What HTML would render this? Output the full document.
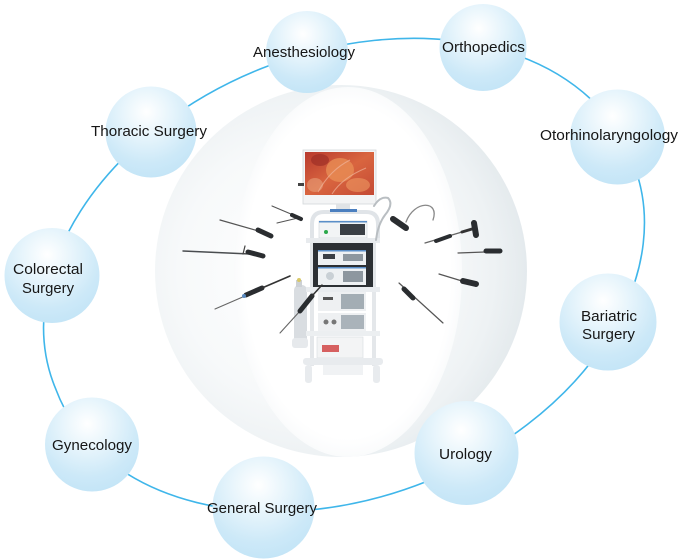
<!DOCTYPE html>
<html><head><meta charset="utf-8"><style>
html,body{margin:0;padding:0;background:#fff;width:680px;height:559px;overflow:hidden;}
svg{display:block;}
text{font-family:"Liberation Sans",Arial,sans-serif;font-size:14.5px;fill:#161616;}
</style></head><body>
<svg width="680" height="559" viewBox="0 0 680 559" xmlns="http://www.w3.org/2000/svg">
<defs>
  <radialGradient id="bub" cx="0.45" cy="0.3" r="0.78" fx="0.45" fy="0.28">
    <stop offset="0" stop-color="#ffffff"/>
    <stop offset="0.3" stop-color="#eaf6fc"/>
    <stop offset="0.7" stop-color="#cde9f8"/>
    <stop offset="1" stop-color="#c0e3f6"/>
  </radialGradient>
  <radialGradient id="sph" cx="0.42" cy="0.5" r="0.58" fx="0.4" fy="0.5">
    <stop offset="0" stop-color="#ffffff"/>
    <stop offset="0.6" stop-color="#f7f9fa"/>
    <stop offset="0.85" stop-color="#eef2f4"/>
    <stop offset="1" stop-color="#e4eaed"/>
  </radialGradient>
  <radialGradient id="inner" cx="0.5" cy="0.5" r="0.5">
    <stop offset="0" stop-color="#ffffff"/>
    <stop offset="0.9" stop-color="#ffffff"/>
    <stop offset="1" stop-color="#fafbfc"/>
  </radialGradient>
  <linearGradient id="scr" x1="0" y1="0" x2="1" y2="1">
    <stop offset="0" stop-color="#b83a2e"/>
    <stop offset="0.5" stop-color="#d9653f"/>
    <stop offset="1" stop-color="#c44a35"/>
  </linearGradient>
  <clipPath id="sc"><circle cx="341" cy="271" r="186"/></clipPath>
</defs>

<!-- ring -->
<path d="M632 160.4 A310 219 -21.7 1 1 56 389.6 A310 219 -21.7 1 1 632 160.4 Z" fill="none" stroke="#3fb6ea" stroke-width="1.6"/>

<!-- sphere -->
<circle cx="341" cy="271" r="186" fill="url(#sph)"/>
<g clip-path="url(#sc)">
  <ellipse cx="348" cy="272" rx="114" ry="185" fill="url(#inner)"/>
</g>

<!-- equipment -->
<g>
  <rect x="294" y="285" width="13" height="58" rx="5" fill="#d9dde1"/>
  <rect x="296" y="280" width="6" height="7" fill="#cdd1d5"/>
  <circle cx="299" cy="280" r="2" fill="#d8c86a"/>
  <rect x="292" y="338" width="16" height="10" rx="3" fill="#e6e9ec"/>
  <rect x="310" y="238" width="4" height="128" fill="#e4e7ea"/>
  <rect x="372" y="238" width="4" height="128" fill="#e4e7ea"/>
  <path d="M312 240 V224 Q312 212 324 212 H366 Q378 212 378 224 V240" fill="none" stroke="#e0e4e8" stroke-width="4"/>
  <rect x="303" y="150" width="73" height="54" fill="#f3f4f5" stroke="#d3d7db" stroke-width="0.8"/>
  <rect x="305" y="152" width="69" height="43" fill="url(#scr)"/>
  <ellipse cx="340" cy="170" rx="14" ry="12" fill="#e98d55" opacity="0.8"/>
  <ellipse cx="320" cy="160" rx="9" ry="6" fill="#9e2f27" opacity="0.7"/>
  <ellipse cx="358" cy="185" rx="12" ry="7" fill="#ee9a62" opacity="0.6"/>
  <ellipse cx="315" cy="185" rx="8" ry="7" fill="#e8a07a" opacity="0.6"/>
  <path d="M318 192 Q330 170 350 160 M332 194 Q342 178 366 168" stroke="#f0b49a" stroke-width="1" fill="none" opacity="0.7"/>
  <rect x="298" y="183" width="6" height="3" fill="#444"/>
  <rect x="336" y="204" width="14" height="6" fill="#e0e3e6"/>
  <rect x="330" y="209" width="27" height="3" fill="#4b7fbf"/>
  <rect x="319" y="221" width="48" height="17" fill="#f2f4f5" stroke="#cfd5da" stroke-width="0.6"/>
  <rect x="319" y="221" width="48" height="1.5" fill="#5b8fc8"/>
  <rect x="340" y="224" width="25" height="11" fill="#3a3f45"/>
  <circle cx="326" cy="232" r="2" fill="#2aa84a"/>
  <rect x="306" y="238" width="74" height="5" fill="#e8ebee"/>
  <rect x="313" y="243" width="60" height="44" fill="#2c3034"/>
  <rect x="318" y="250" width="48" height="15" fill="#eef1f3"/>
  <rect x="318" y="250" width="48" height="1.5" fill="#5b8fc8"/>
  <rect x="323" y="254" width="12" height="5" fill="#3a3f45"/>
  <rect x="343" y="254" width="20" height="7" fill="#8d979f"/>
  <rect x="318" y="267" width="48" height="18" fill="#eef1f3"/>
  <rect x="318" y="267" width="48" height="1.5" fill="#5b8fc8"/>
  <circle cx="330" cy="276" r="4" fill="#c9d0d5"/>
  <rect x="343" y="271" width="20" height="11" fill="#8d979f"/>
  <rect x="306" y="287" width="74" height="5" fill="#e9ecef"/>
  <rect x="318" y="292" width="48" height="19" fill="#eef0f2"/>
  <rect x="341" y="294" width="23" height="15" fill="#a3adb4"/>
  <rect x="323" y="297" width="10" height="3" fill="#555"/>
  <rect x="318" y="313" width="48" height="18" fill="#eef0f2"/>
  <rect x="341" y="315" width="23" height="14" fill="#aab3ba"/>
  <circle cx="326" cy="322" r="2.5" fill="#777"/>
  <circle cx="334" cy="322" r="2.5" fill="#777"/>
  <rect x="306" y="331" width="74" height="5" fill="#eceff1"/>
  <rect x="317" y="337" width="46" height="21" fill="#f3f4f5" stroke="#d8dcdf" stroke-width="0.6"/>
  <rect x="322" y="345" width="17" height="7" fill="#d66060"/>
  <rect x="303" y="358" width="80" height="7" rx="3" fill="#e8ebee"/>
  <rect x="305" y="365" width="7" height="18" rx="3" fill="#e8ebee"/>
  <rect x="373" y="365" width="7" height="18" rx="3" fill="#e8ebee"/>
  <rect x="323" y="365" width="40" height="10" fill="#f0f2f4"/>
  <g stroke-linecap="round" fill="none">
    <path d="M272 206 L298 217 M277 223 L298 218" stroke="#555" stroke-width="1.1"/>
    <path d="M292 215 L301 219" stroke="#2a2d30" stroke-width="4"/>
    <path d="M220 220 L262 232" stroke="#555" stroke-width="1.2"/>
    <path d="M258 230 L271 236" stroke="#2a2d30" stroke-width="5"/>
    <path d="M183 251 L250 254" stroke="#4a4d50" stroke-width="1.4"/>
    <path d="M243 254 L245 246" stroke="#444" stroke-width="1.2"/>
    <path d="M248 252 L263 256" stroke="#2a2d30" stroke-width="5"/>
    <path d="M215 309 L245 296" stroke="#666" stroke-width="1.1"/>
    <path d="M246 295 L262 288" stroke="#2a2d30" stroke-width="5"/>
    <circle cx="244" cy="296" r="2" fill="#5a8ac0" stroke="none"/>
    <path d="M262 288 L290 276" stroke="#333" stroke-width="1.6"/>
    <path d="M280 333 L300 311" stroke="#666" stroke-width="1.1"/>
    <path d="M300 311 L312 296" stroke="#2a2d30" stroke-width="5"/>
    <path d="M312 296 L322 285" stroke="#333" stroke-width="1.5"/>
    <path d="M376 240 Q378 224 385 215 Q394 204 388 198 Q380 196 374 206" stroke="#b9bec2" stroke-width="2"/>
    <path d="M393 219 L406 228" stroke="#2a2d30" stroke-width="6"/>
    <path d="M406 222 C414 200 440 200 433 220" stroke="#888" stroke-width="1.3"/>
    <path d="M425 243 L462 232" stroke="#666" stroke-width="1.3"/>
    <path d="M436 241 L450 236" stroke="#2a2d30" stroke-width="4"/>
    <path d="M462 232 L472 229" stroke="#333" stroke-width="3"/>
    <path d="M474 223 L476 235" stroke="#2a2d30" stroke-width="6"/>
    <path d="M458 253 L485 252" stroke="#555" stroke-width="1.2"/>
    <path d="M486 251 L500 251" stroke="#2a2d30" stroke-width="5"/>
    <path d="M439 274 L462 281" stroke="#555" stroke-width="1.2"/>
    <path d="M463 281 L476 284" stroke="#2a2d30" stroke-width="6"/>
    <path d="M399 283 L443 323" stroke="#555" stroke-width="1.2"/>
    <path d="M404 289 L413 298" stroke="#2a2d30" stroke-width="5"/>
  </g>
</g>

<!-- bubbles -->
<circle cx="307" cy="52" r="41" fill="url(#bub)"/>
<circle cx="483" cy="47.5" r="43.5" fill="url(#bub)"/>
<circle cx="617.5" cy="137" r="47.5" fill="url(#bub)"/>
<circle cx="151" cy="132" r="45.5" fill="url(#bub)"/>
<circle cx="52" cy="275.5" r="47.5" fill="url(#bub)"/>
<circle cx="92" cy="444.5" r="47" fill="url(#bub)"/>
<circle cx="263.5" cy="507.5" r="51" fill="url(#bub)"/>
<circle cx="466.5" cy="453" r="52" fill="url(#bub)"/>
<circle cx="608" cy="322" r="48.5" fill="url(#bub)"/>

<!-- labels -->
<text x="253" y="57" textLength="102" lengthAdjust="spacingAndGlyphs">Anesthesiology</text>
<text x="442" y="52" textLength="83" lengthAdjust="spacingAndGlyphs">Orthopedics</text>
<text x="540" y="140" textLength="138" lengthAdjust="spacingAndGlyphs">Otorhinolaryngology</text>
<text x="91" y="136" textLength="116" lengthAdjust="spacingAndGlyphs">Thoracic Surgery</text>
<text x="13" y="274" textLength="70" lengthAdjust="spacingAndGlyphs">Colorectal</text>
<text x="22" y="293" textLength="52" lengthAdjust="spacingAndGlyphs">Surgery</text>
<text x="52" y="450" textLength="80" lengthAdjust="spacingAndGlyphs">Gynecology</text>
<text x="207" y="513" textLength="110" lengthAdjust="spacingAndGlyphs">General Surgery</text>
<text x="439" y="459" textLength="53" lengthAdjust="spacingAndGlyphs">Urology</text>
<text x="581" y="321" textLength="56" lengthAdjust="spacingAndGlyphs">Bariatric</text>
<text x="582" y="339" textLength="53" lengthAdjust="spacingAndGlyphs">Surgery</text>
</svg>
</body></html>
